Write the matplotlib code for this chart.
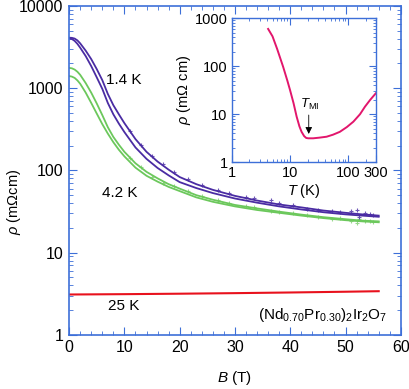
import matplotlib
matplotlib.use("Agg")
import matplotlib.pyplot as plt
from matplotlib.ticker import LogLocator, NullFormatter, MultipleLocator, FixedLocator, FixedFormatter

plt.rcParams['font.family'] = ['Liberation Sans', 'DejaVu Sans']
plt.rcParams['mathtext.fontset'] = 'custom'
plt.rcParams['mathtext.rm'] = 'Liberation Sans'
plt.rcParams['mathtext.it'] = 'Liberation Sans:italic'

# field sweeps, rho in mOhm cm
B = [0, 0.5, 1, 1.5, 2, 3, 4, 5, 6, 7, 8, 9, 10, 12, 14, 16, 18, 20,
     23, 26, 30, 34, 38, 42, 46, 50, 53, 56]
rho_14_a = [4100, 4080, 4000, 3800, 3500, 2850, 2250, 1700, 1250, 850, 620, 480, 375, 240,
            168, 128, 102, 83, 68, 58, 49, 43, 38.5, 35.5, 32.5, 30.5, 29.2, 28.2]
rho_14_b = [4000, 3950, 3750, 3450, 3100, 2450, 1850, 1350, 980, 660, 480, 370, 292, 190,
            138, 107, 87, 72, 61, 53, 45.5, 40.5, 36.5, 33.5, 31, 29.2, 28.2, 27.3]
rho_42_a = [1760, 1740, 1680, 1580, 1450, 1150, 880, 650, 470, 335, 255, 205, 168, 122,
            96, 80, 68, 60, 50, 44, 38, 34.5, 31.5, 29, 27, 25.5, 24.5, 24]
rho_42_b = [1400, 1380, 1330, 1240, 1130, 880, 660, 490, 365, 280, 220, 178, 148, 108,
            86, 73, 63, 56, 47, 41.5, 36.5, 33, 30.5, 28.2, 26.3, 24.8, 24, 23.4]
B_25 = [0, 10, 20, 30, 40, 50, 56]
rho_25 = [3.10, 3.13, 3.17, 3.22, 3.28, 3.35, 3.40]

# scattered raw points around the 1.4 K and 4.2 K curves
noise_B = [11, 13, 15, 17, 19, 21.5, 24, 27, 29, 32, 33.5, 36.5, 38, 40.5, 43, 45, 47.5,
           49, 51, 52, 52.5, 53.5, 54.5, 55]
noise_14 = [300, 205, 150, 118, 95, 78, 67, 58, 53, 48, 46, 44, 40, 38, 34, 33, 32,
            31, 32, 33, 27, 30, 29.5, 28.5]
noise_42 = [140, 110, 82, 70, 64, 56, 49, 44, 40, 37, 35.5, 32, 31.5, 30, 28.5, 27.5, 25.5,
            26.5, 24.5, 23, 25.5, 24.5, 24.2, 23.8]

# inset: zero-field rho(T)
T = [4.2, 5, 6, 7.6, 9, 10, 11.5, 13, 14.5, 15.8, 17.5, 19, 20.6, 25, 32, 42.6,
     55, 72, 95, 123, 160, 195, 240, 300]
rho_T = [600, 420, 230, 98, 50, 32, 17, 8.9, 5.6, 4.3, 3.5, 3.2, 3.15, 3.15, 3.25, 3.4,
         3.75, 4.3, 5.4, 7.0, 10.0, 14.4, 20, 27.4]

blue = '#3d6fd8'
purple = '#4a2ca3'
green = '#6cc85c'
red = '#e8111d'
pink = '#e2166c'

fig = plt.figure(figsize=(4.09, 3.89), dpi=100)
ax = fig.add_axes([0.169, 0.139, 0.811, 0.846])

ax.plot(noise_B, noise_42, '+', color=green, ms=3, mew=0.8, alpha=0.7)
ax.plot(B, rho_42_a, color=green, lw=1.3)
ax.plot(B, rho_42_b, color=green, lw=1.3)
ax.plot(noise_B, noise_14, '+', color=purple, ms=3, mew=0.8, alpha=0.8)
ax.plot(B, rho_14_a, color=purple, lw=1.3)
ax.plot(B, rho_14_b, color=purple, lw=1.3)
ax.plot(B_25, rho_25, color=red, lw=1.5)

ax.set_yscale('log')
ax.set_xlim(0, 60)
ax.set_ylim(1, 10000)
ax.xaxis.set_major_locator(MultipleLocator(10))
ax.xaxis.set_minor_locator(MultipleLocator(2))
ax.yaxis.set_major_locator(FixedLocator([1, 10, 100, 1000, 10000]))
ax.yaxis.set_major_formatter(FixedFormatter(['1', '10', '100', '1000', '10000']))
ax.yaxis.set_minor_locator(LogLocator(base=10, subs=range(2, 10)))
ax.yaxis.set_minor_formatter(NullFormatter())
for sp in ax.spines.values():
    sp.set_color(blue)
    sp.set_linewidth(1.2)
ax.tick_params(which='both', direction='in', top=True, right=True, color=blue,
               labelsize=11.5, pad=4)
ax.tick_params(which='major', length=6)
ax.tick_params(which='minor', length=3)
ax.set_xlabel('$\\it{B}$ (T)', fontsize=11, labelpad=10)
fig.text(0.012, 0.48, '$\\it{\\rho}$ (mΩcm)', fontsize=10.5, rotation=90,
         ha='left', va='center')

ax.text(9.8, 1260, '1.4 K', fontsize=11, ha='center', va='center')
ax.text(9.2, 53, '4.2 K', fontsize=11, ha='center', va='center')
ax.text(9.8, 2.25, '25 K', fontsize=11, ha='center', va='center')
ax.text(57.5, 1.75, '(Nd$_{0.70}$Pr$_{0.30}$)$_2$Ir$_2$O$_7$', fontsize=11,
        ha='right', va='center')

ins = fig.add_axes([0.567, 0.583, 0.352, 0.370])
ins.plot(T, rho_T, color=pink, lw=1.4)
ins.set_xscale('log')
ins.set_yscale('log')
ins.set_xlim(1, 300)
ins.set_ylim(1, 1000)
ins.xaxis.set_major_locator(FixedLocator([1, 10, 100, 300]))
ins.xaxis.set_major_formatter(FixedFormatter(['1', '10', '100', '300']))
ins.xaxis.set_minor_locator(LogLocator(base=10, subs=range(2, 10)))
ins.xaxis.set_minor_formatter(NullFormatter())
ins.yaxis.set_major_locator(FixedLocator([1, 10, 100, 1000]))
ins.yaxis.set_major_formatter(FixedFormatter(['1', '10', '100', '1000']))
ins.yaxis.set_minor_locator(LogLocator(base=10, subs=range(2, 10)))
ins.yaxis.set_minor_formatter(NullFormatter())
for sp in ins.spines.values():
    sp.set_color(blue)
    sp.set_linewidth(1.0)
ins.tick_params(which='both', direction='in', top=True, right=True, color=blue,
                labelsize=10.5, pad=3)
ins.tick_params(which='major', length=5)
ins.tick_params(which='minor', length=2.5)
ins.set_xlabel('$\\it{T}$ (K)', fontsize=10.5, labelpad=1)
ins.set_ylabel('$\\it{\\rho}$ (mΩ cm)', fontsize=10.5, labelpad=1)
ins.annotate('', xy=(21, 3.4), xytext=(21, 11),
             arrowprops=dict(arrowstyle='-|>', color='black', lw=0.6, mutation_scale=10))
ins.text(21.5, 16, '$\\it{T}_{\\rm MI}$', fontsize=9.5, ha='center', va='center')

fig.savefig('out.png', dpi=100)
